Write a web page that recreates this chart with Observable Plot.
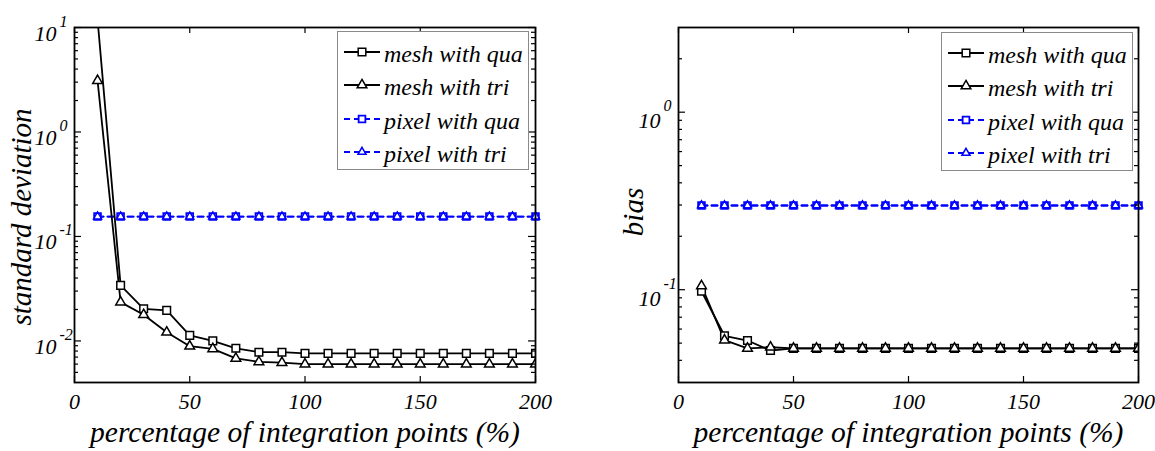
<!DOCTYPE html>
<html><head><meta charset="utf-8">
<script src="https://cdn.jsdelivr.net/npm/d3@7"></script>
<script src="https://cdn.jsdelivr.net/npm/@observablehq/plot@0.6"></script>
<style>
html,body{margin:0;padding:0;background:#fff;}
#wrap{position:relative;width:1155px;height:451px;display:flex;}
#wrap svg{display:block;}
.legend{position:absolute;background:#fff;border:1px solid #8a8a8a;box-sizing:border-box;}
</style></head><body><div id="wrap"></div>
<script>
// ---- data ----
const xValues = [10,20,30,40,50,60,70,80,90,100,110,120,130,140,150,160,170,180,190,200];
const xTicks = [0,50,100,150,200];

// left panel: standard deviation
const sdMeshQua = [12,0.034,0.0203,0.0196,0.0113,0.0100,0.0085,0.0078,0.0078,0.0076,0.0076,0.0076,0.0076,0.0076,0.0076,0.0076,0.0076,0.0076,0.0076,0.0076];
const sdMeshTri = [3.1,0.0235,0.0178,0.0121,0.0089,0.0084,0.0068,0.0063,0.0062,0.0060,0.0060,0.0060,0.0060,0.0060,0.0060,0.0060,0.0060,0.0060,0.0060,0.0060];
const sdPixelQua = [0.155,0.155,0.155,0.155,0.155,0.155,0.155,0.155,0.155,0.155,0.155,0.155,0.155,0.155,0.155,0.155,0.155,0.155,0.155,0.155];
const sdPixelTri = [0.155,0.155,0.155,0.155,0.155,0.155,0.155,0.155,0.155,0.155,0.155,0.155,0.155,0.155,0.155,0.155,0.155,0.155,0.155,0.155];
const sdMajors = [0.01,0.1,1,10];
const sdMajorExp = ["-2","-1","0","1"];
const sdMinors = [0.005,0.006,0.007,0.008,0.009,0.02,0.03,0.04,0.05,0.06,0.07,0.08,0.09,0.2,0.3,0.4,0.5,0.6,0.7,0.8,0.9,2,3,4,5,6,7,8,9];

// right panel: bias
const biasMeshQua = [0.098,0.055,0.0517,0.0454,0.0467,0.0467,0.0467,0.0467,0.0467,0.0467,0.0467,0.0467,0.0467,0.0467,0.0467,0.0467,0.0467,0.0467,0.0467,0.0467];
const biasMeshTri = [0.105,0.052,0.0467,0.0474,0.0467,0.0467,0.0467,0.0467,0.0467,0.0467,0.0467,0.0467,0.0467,0.0467,0.0467,0.0467,0.0467,0.0467,0.0467,0.0467];
const biasPixelQua = [0.298,0.298,0.298,0.298,0.298,0.298,0.298,0.298,0.298,0.298,0.298,0.298,0.298,0.298,0.298,0.298,0.298,0.298,0.298,0.298];
const biasPixelTri = [0.298,0.298,0.298,0.298,0.298,0.298,0.298,0.298,0.298,0.298,0.298,0.298,0.298,0.298,0.298,0.298,0.298,0.298,0.298,0.298];
const biasMajors = [0.1,1];
const biasMajorExp = ["-1","0"];
const biasMinors = [0.04,0.05,0.06,0.07,0.08,0.09,0.2,0.3,0.4,0.5,0.6,0.7,0.8,0.9,2];

const seriesNames = ["mesh with qua","mesh with tri","pixel with qua","pixel with tri"];
const xLabel = "percentage of integration points (%)";

// ---- drawing ----
const FONT = "'Liberation Serif','Times New Roman',serif";
const BLUE = "#0000ff";
const H = 451, MT = 27, MB = 69;

function panel(o) {
  const frameW = o.width - o.marginLeft - o.marginRight;
  const frameH = H - MT - MB;
  const rows = xValues.map((x, i) => ({x, qua: o.qua[i], tri: o.tri[i], pq: o.pq[i], pt: o.pt[i]}));
  const tk = {stroke: "black", strokeWidth: 1.2};
  const txt = {fontFamily: FONT, fontStyle: "italic", fill: "black"};
  return Plot.plot({
    width: o.width, height: H,
    marginLeft: o.marginLeft, marginRight: o.marginRight, marginTop: MT, marginBottom: MB,
    x: {domain: [0, 200], axis: null},
    y: {type: "log", domain: o.yDomain, axis: null},
    style: {fontFamily: FONT, background: "transparent", overflow: "visible"},
    marks: [
      // pixel series (blue dashed)
      Plot.line(rows, {x: "x", y: "pq", stroke: BLUE, strokeWidth: 1.8, strokeDasharray: "6,4"}),
      Plot.line(rows, {x: "x", y: "pt", stroke: BLUE, strokeWidth: 1.8, strokeDasharray: "6,4"}),
      Plot.dot(rows, {x: "x", y: "pq", symbol: "square", r: 3.8, stroke: BLUE, fill: "white", strokeWidth: 1.8}),
      Plot.dot(rows, {x: "x", y: "pt", symbol: "triangle", r: 3.0, stroke: BLUE, fill: "none", strokeWidth: 1.5}),
      // mesh series (black solid)
      Plot.line(rows, {x: "x", y: "qua", stroke: "black", strokeWidth: 1.8, clip: true}),
      Plot.line(rows, {x: "x", y: "tri", stroke: "black", strokeWidth: 1.8, clip: true}),
      Plot.dot(rows, {x: "x", y: "qua", symbol: "square", r: 4.3, stroke: "black", fill: "white", strokeWidth: 1.5, clip: true}),
      Plot.dot(rows, {x: "x", y: "tri", symbol: "triangle", r: 3.6, stroke: "black", fill: "white", strokeWidth: 1.5, clip: true}),
      // ticks (inward, on all four sides)
      Plot.tickX(xTicks, {x: d => d, insetTop: frameH - 6, ...tk}),
      Plot.tickX(xTicks, {x: d => d, insetBottom: frameH - 6, ...tk}),
      Plot.tickY(o.majors, {y: d => d, insetRight: frameW - 7, ...tk}),
      Plot.tickY(o.majors, {y: d => d, insetLeft: frameW - 7, ...tk}),
      Plot.tickY(o.minors, {y: d => d, insetRight: frameW - 4, ...tk}),
      Plot.tickY(o.minors, {y: d => d, insetLeft: frameW - 4, ...tk}),
      Plot.frame({stroke: "black", strokeWidth: 1.8}),
      // x tick labels
      Plot.text(xTicks, {x: d => d, text: d => String(d), frameAnchor: "bottom", dy: 26, textAnchor: "middle", lineAnchor: "bottom", fontSize: 22, ...txt}),
      // y tick labels: 10 with superscript exponent
      Plot.text(o.majors, {y: d => d, text: () => "10", frameAnchor: "left", dx: -18, dy: o.tenDy, textAnchor: "end", lineAnchor: "bottom", fontSize: 22, ...txt}),
      Plot.text(o.majors, {y: d => d, text: (d, i) => o.majorExp[i], frameAnchor: "left", dx: -15, dy: -1, textAnchor: "start", lineAnchor: "bottom", fontSize: 16, ...txt}),
      // axis labels
      Plot.text([xLabel], {text: d => d, frameAnchor: "bottom", dy: 50, textAnchor: "middle", lineAnchor: "middle", fontSize: 29.5, ...txt}),
      Plot.text([o.yLabel], {text: d => d, frameAnchor: "left", dx: o.yLabelDx, dy: o.yLabelDy, rotate: -90, textAnchor: "middle", lineAnchor: "middle", fontSize: 29, ...txt})
    ]
  });
}

const wrap = document.getElementById("wrap");
wrap.appendChild(panel({
  width: 590, marginLeft: 74, marginRight: 55, yDomain: [0.004, 10],
  qua: sdMeshQua, tri: sdMeshTri, pq: sdPixelQua, pt: sdPixelTri,
  majors: sdMajors, majorExp: sdMajorExp, minors: sdMinors,
  yLabel: "standard deviation", yLabelDx: -53, yLabelDy: 12, tenDy: 13
}));
wrap.appendChild(panel({
  width: 565, marginLeft: 88, marginRight: 17, yDomain: [0.03, 3],
  qua: biasMeshQua, tri: biasMeshTri, pq: biasPixelQua, pt: biasPixelTri,
  majors: biasMajors, majorExp: biasMajorExp, minors: biasMinors,
  yLabel: "bias", yLabelDx: -45, yLabelDy: 7, tenDy: 16
}));

// legends
function legend(left, top) {
  const W = 192, Hh = 139;
  const div = document.createElement("div");
  div.className = "legend";
  Object.assign(div.style, {left: left + "px", top: top + "px", width: W + "px", height: Hh + "px"});
  wrap.appendChild(div);
  const svg = d3.select(div).append("svg").attr("width", W - 2).attr("height", Hh - 2)
    .style("position", "absolute").style("left", "0").style("top", "0");
  const baselines = [31, 64, 98, 131];
  const styles = [
    {color: "black", dash: null, sym: d3.symbolSquare, size: Math.PI * 4.3 * 4.3, sw: 1.5},
    {color: "black", dash: null, sym: d3.symbolTriangle, size: Math.PI * 3.6 * 3.6, sw: 1.5},
    {color: BLUE, dash: "6,4", sym: d3.symbolSquare, size: Math.PI * 3.8 * 3.8, sw: 1.8},
    {color: BLUE, dash: "6,4", sym: d3.symbolTriangle, size: Math.PI * 3.0 * 3.0, sw: 1.5}
  ];
  seriesNames.forEach((name, i) => {
    const b = baselines[i] - 1, ly = b - 10, s = styles[i];
    svg.append("line").attr("x1", 6).attr("x2", 42).attr("y1", ly).attr("y2", ly)
      .attr("stroke", s.color).attr("stroke-width", 1.8).attr("stroke-dasharray", s.dash);
    svg.append("path").attr("d", d3.symbol(s.sym, s.size)()).attr("transform", `translate(24,${ly})`)
      .attr("fill", "white").attr("stroke", s.color).attr("stroke-width", s.sw);
    svg.append("text").attr("x", 46).attr("y", b).text(name)
      .attr("font-family", FONT).attr("font-style", "italic").attr("font-size", 24).attr("fill", "black");
  });
}
legend(337, 31);
legend(941, 32);
</script>
</body></html>
